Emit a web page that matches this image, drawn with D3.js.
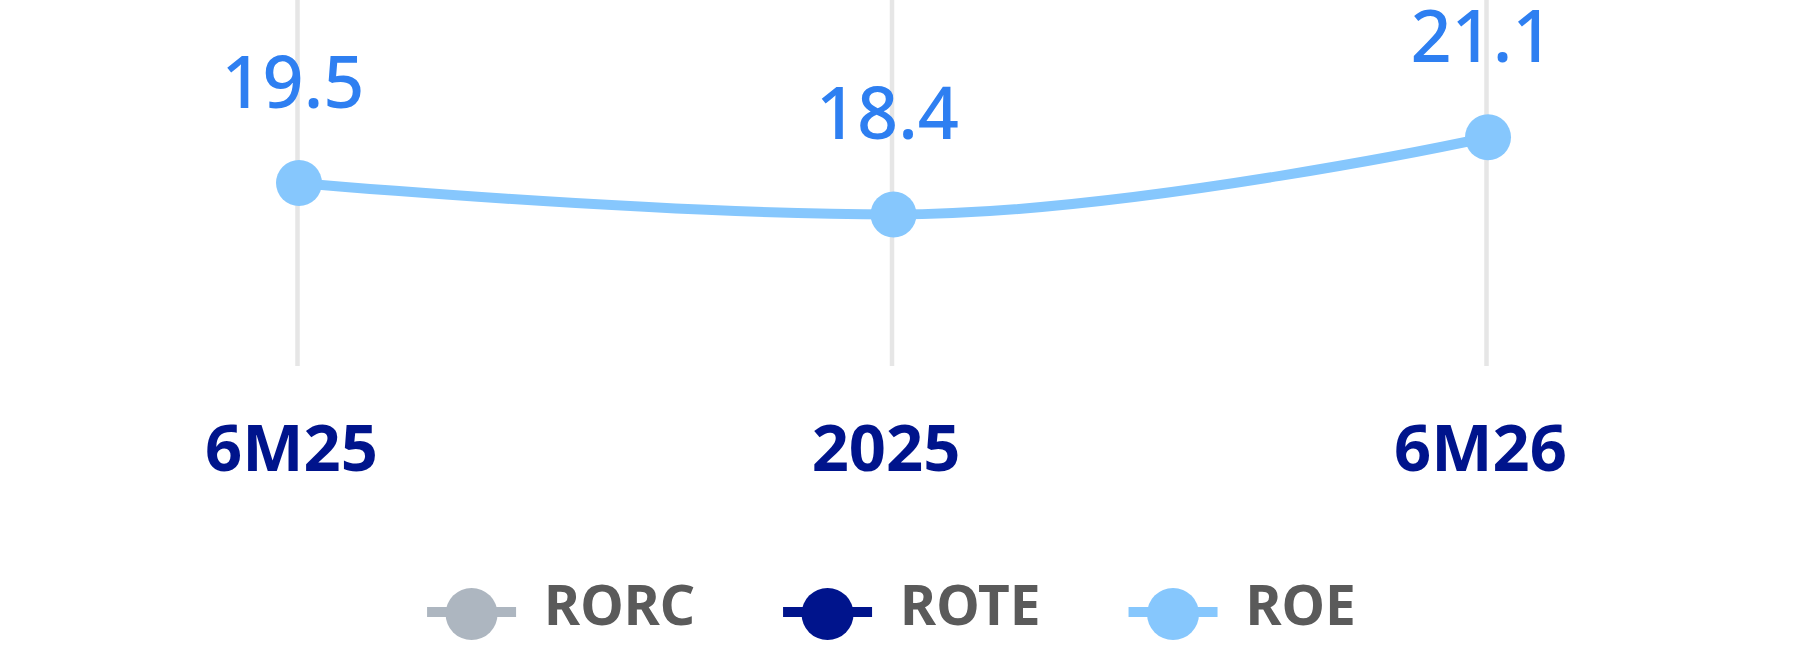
<!DOCTYPE html>
<html>
<head>
<meta charset="utf-8">
<script src="https://cdn.jsdelivr.net/npm/d3@7"></script>
<style>
  body { margin: 0; background: #fff; }
  svg { display: block; }
</style>
</head>
<body>
<div id="chart"></div>
<script>
"use strict";

// data
const categories = ["6M25", "2025", "6M26"];
const roeValues = [19.5, 18.4, 21.1];

// legend entries (only ROE carries visible data)
const legendNames = ["RORC", "ROTE", "ROE"];
const legendColors = ["#adb6c0", "#00148c", "#86c7fd"];

const width = 1800, height = 654;
const plotTop = 0, plotBottom = 366;
const font = "'Noto Sans', 'Open Sans', sans-serif";

const svg = d3.select("#chart").append("svg")
    .attr("width", width)
    .attr("height", height);

const x = d3.scalePoint()
    .domain(categories)
    .range([299, 1488]);

const y = d3.scaleLinear()
    .domain([13.1, 25.9])
    .range([plotBottom, plotTop]);

// spline like the one the source chart used: no overshoot at turning points
function splineCurve(context) {
    return {
        _pts: [],
        areaStart() {},
        areaEnd() {},
        lineStart() { this._pts = []; },
        point(px, py) { this._pts.push([+px, +py]); },
        lineEnd() {
            const p = this._pts, n = p.length;
            if (!n) return;
            const ctl = p.map(() => null);
            for (let i = 1; i < n - 1; i++) {
                const [px, py] = p[i - 1], [cx, cy] = p[i], [nx, ny] = p[i + 1];
                let lx = (1.5 * cx + px) / 2.5, ly = (1.5 * cy + py) / 2.5;
                let rx = (1.5 * cx + nx) / 2.5, ry = (1.5 * cy + ny) / 2.5;
                if (rx !== lx) {
                    const corr = ((ry - ly) * (rx - cx)) / (rx - lx) + cy - ry;
                    ly += corr; ry += corr;
                }
                if (ly > py && ly > cy) { ly = Math.max(py, cy); ry = 2 * cy - ly; }
                else if (ly < py && ly < cy) { ly = Math.min(py, cy); ry = 2 * cy - ly; }
                if (ry > ny && ry > cy) { ry = Math.max(ny, cy); ly = 2 * cy - ry; }
                else if (ry < ny && ry < cy) { ry = Math.min(ny, cy); ly = 2 * cy - ry; }
                ctl[i] = { l: [lx, ly], r: [rx, ry] };
            }
            context.moveTo(p[0][0], p[0][1]);
            for (let i = 1; i < n; i++) {
                const c1 = ctl[i - 1] ? ctl[i - 1].r : p[i - 1];
                const c2 = ctl[i] ? ctl[i].l : p[i];
                context.bezierCurveTo(c1[0], c1[1], c2[0], c2[1], p[i][0], p[i][1]);
            }
        }
    };
}

// x axis: vertical grid lines + category labels
const xAxis = svg.append("g")
    .attr("transform", "translate(-2," + plotBottom + ")")
    .call(d3.axisBottom(x).tickSize(-(plotBottom - plotTop)).tickPadding(0));

xAxis.select(".domain").remove();
xAxis.selectAll(".tick line")
    .attr("stroke", "#e6e6e6")
    .attr("stroke-width", 4.5);
xAxis.selectAll(".tick text")
    .attr("y", 471 - plotBottom)
    .attr("dy", 0)
    .attr("dx", -6)
    .attr("fill", "#00148c")
    .style("font-family", font)
    .style("font-weight", 700)
    .style("font-size", "65px");

const roe = categories.map((c, i) => ({ cat: c, value: roeValues[i] }));

const line = d3.line()
    .x(d => x(d.cat))
    .y(d => y(d.value))
    .curve(splineCurve);

svg.append("path")
    .datum(roe)
    .attr("d", line)
    .attr("fill", "none")
    .attr("stroke", legendColors[2])
    .attr("stroke-width", 10);

svg.append("g").selectAll("circle")
    .data(roe)
    .join("circle")
    .attr("cx", d => x(d.cat))
    .attr("cy", d => y(d.value))
    .attr("r", 23)
    .attr("fill", legendColors[2]);

svg.append("g").selectAll("text")
    .data(roe)
    .join("text")
    .attr("x", d => x(d.cat) - 6)
    .attr("y", d => y(d.value) - 75)
    .attr("text-anchor", "middle")
    .attr("fill", "#2e7ff1")
    .style("font-family", font)
    .style("font-weight", 500)
    .style("font-size", "72px")
    .text(d => d.value.toFixed(1));

// legend, centred under the plot
const symW = 89, symGap = 28, itemGap = 88;
const legend = svg.append("g");
const items = legend.selectAll("g")
    .data(legendNames)
    .join("g");

items.append("text")
    .attr("x", symW + symGap)
    .attr("y", 625)
    .attr("fill", "#5a5a5a")
    .style("font-family", font)
    .style("font-weight", 700)
    .style("font-size", "55px")
    .text(d => d);

items.append("line")
    .attr("x1", 0)
    .attr("x2", symW)
    .attr("y1", 612)
    .attr("y2", 612)
    .attr("stroke", (d, i) => legendColors[i])
    .attr("stroke-width", 10);

items.append("circle")
    .attr("cx", symW / 2)
    .attr("cy", 614)
    .attr("r", 26)
    .attr("fill", (d, i) => legendColors[i]);

const widths = [];
items.select("text").each(function () { widths.push(this.getComputedTextLength()); });
const total = d3.sum(widths) + legendNames.length * (symW + symGap) + (legendNames.length - 1) * itemGap;
let cursor = (x.range()[0] + x.range()[1]) / 2 - 2 - total / 2;
items.attr("transform", (d, i) => {
    const t = "translate(" + cursor + ",0)";
    cursor += symW + symGap + widths[i] + itemGap;
    return t;
});
</script>
</body>
</html>
